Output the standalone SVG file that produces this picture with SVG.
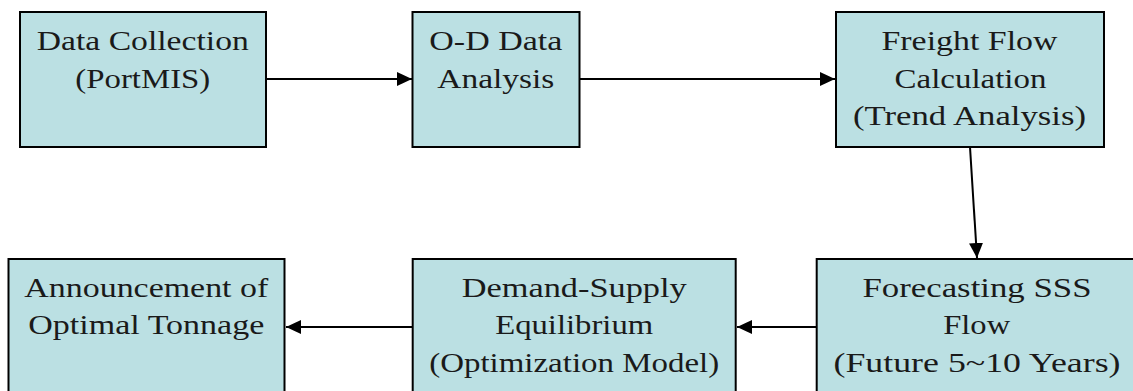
<svg xmlns="http://www.w3.org/2000/svg" width="1133" height="391" viewBox="0 0 1133 391">
<style>
.box{fill:#BBE0E3;stroke:#000;stroke-width:2}
.t{font-family:"Liberation Serif","Times New Roman",serif;font-size:27px;fill:#1a1a1a;text-anchor:middle}
.c{stroke:#000;stroke-width:2;fill:none;marker-end:url(#ah)}
</style>
<defs>
<marker id="ah" markerUnits="userSpaceOnUse" markerWidth="16" markerHeight="16" viewBox="0 0 16 16" refX="15" refY="8" orient="auto">
<path d="M0,1 L15,8 L0,15 Z" fill="#000"/>
</marker>
</defs>
<rect width="1133" height="391" fill="#fff"/>
<g id="connectors">
<line class="c" x1="266" y1="79" x2="412" y2="79"/>
<line class="c" x1="580" y1="79" x2="835" y2="79"/>
<line class="c" x1="970" y1="147" x2="977" y2="258"/>
<line class="c" x1="816" y1="327" x2="737" y2="327"/>
<line class="c" x1="412" y1="327" x2="286" y2="327"/>
</g>
<g id="n1">
<rect class="box" x="20" y="12" width="246" height="135"/>
<text class="t" x="142.8" y="50" textLength="212" lengthAdjust="spacingAndGlyphs">Data Collection</text>
<text class="t" x="142.8" y="87.5" textLength="135" lengthAdjust="spacingAndGlyphs">(PortMIS)</text>
</g>
<g id="n2">
<rect class="box" x="412.5" y="12" width="167" height="135"/>
<text class="t" x="495.8" y="50" textLength="133" lengthAdjust="spacingAndGlyphs">O-D Data</text>
<text class="t" x="495.8" y="87.5" textLength="117" lengthAdjust="spacingAndGlyphs">Analysis</text>
</g>
<g id="n3">
<rect class="box" x="836" y="12" width="268" height="135"/>
<text class="t" x="969.5" y="50" textLength="176" lengthAdjust="spacingAndGlyphs">Freight Flow</text>
<text class="t" x="970.5" y="87.5" textLength="152" lengthAdjust="spacingAndGlyphs">Calculation</text>
<text class="t" x="969.5" y="125" textLength="233" lengthAdjust="spacingAndGlyphs">(Trend Analysis)</text>
</g>
<g id="n4">
<rect class="box" x="8.5" y="259" width="276" height="140"/>
<text class="t" x="146.3" y="296.7" textLength="244" lengthAdjust="spacingAndGlyphs">Announcement of</text>
<text class="t" x="146.3" y="334.3" textLength="236" lengthAdjust="spacingAndGlyphs">Optimal Tonnage</text>
</g>
<g id="n5">
<rect class="box" x="412.7" y="259" width="323" height="140"/>
<text class="t" x="574.2" y="296.7" textLength="225" lengthAdjust="spacingAndGlyphs">Demand-Supply</text>
<text class="t" x="574.2" y="334.3" textLength="158" lengthAdjust="spacingAndGlyphs">Equilibrium</text>
<text class="t" x="574.2" y="371.7" textLength="290" lengthAdjust="spacingAndGlyphs">(Optimization Model)</text>
</g>
<g id="n6">
<rect class="box" x="816.7" y="259" width="322" height="140"/>
<text class="t" x="977" y="296.7" textLength="229" lengthAdjust="spacingAndGlyphs">Forecasting SSS</text>
<text class="t" x="976.7" y="334.3" textLength="67" lengthAdjust="spacingAndGlyphs">Flow</text>
<text class="t" x="977" y="371.7" textLength="287" lengthAdjust="spacingAndGlyphs">(Future 5~10 Years)</text>
</g>
</svg>
